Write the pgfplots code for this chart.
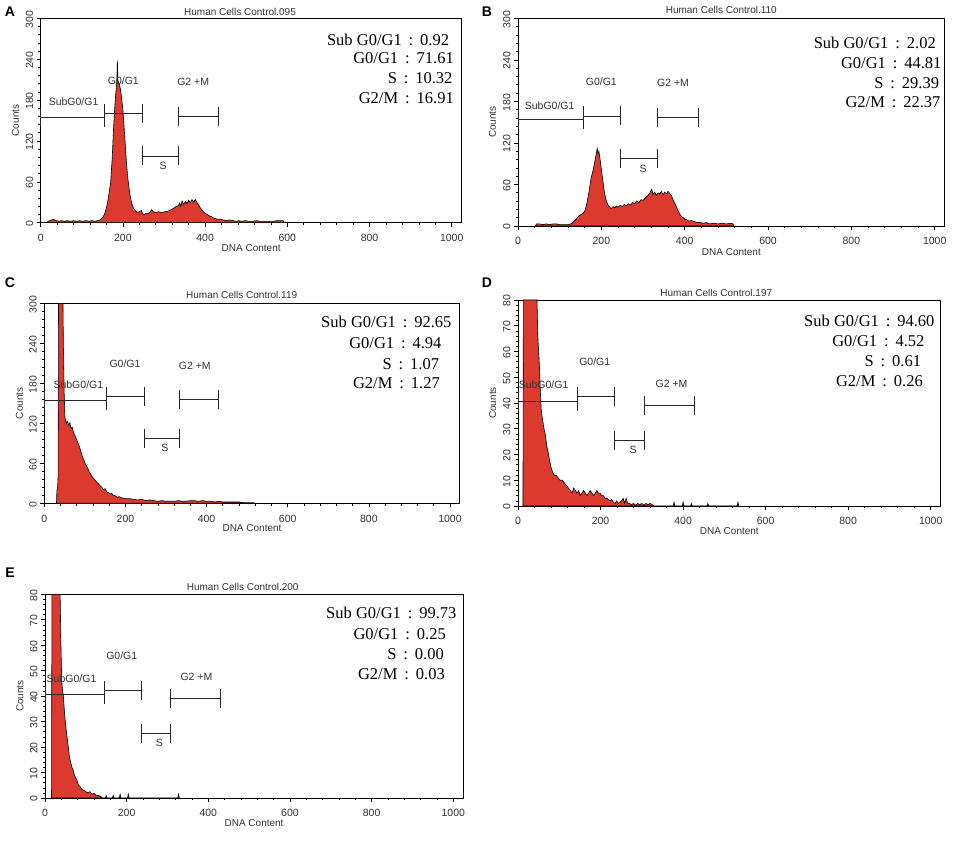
\documentclass[border=0pt]{standalone}
\usepackage{fontspec}
\setmainfont{Liberation Sans}
\newfontfamily\tnr{Liberation Serif}
\usepackage{pgfplots}
\pgfplotsset{compat=1.18}
\definecolor{histred}{RGB}{220,58,47}
\definecolor{lbl}{RGB}{50,50,50}
\newcommand{\sep}{\hspace{0.42em}:\hspace{0.42em}}
\pgfplotsset{
 flow/.style={
  scale only axis, anchor=south west,
  xmin=0, xmax=1024, ymin=0,
  xtick={0,200,...,1000}, minor x tick num=4, minor y tick num=4,
  axis line style={black, line width=0.75pt},
  tick align=outside, xtick pos=lower, ytick pos=left,
  major tick length=4pt, minor tick length=2.5pt,
  tick style={black, line width=0.6pt},
  every tick label/.append style={font=\fontsize{10.5}{11}\selectfont, text=lbl},
  /pgf/number format/assume math mode=true,
  /pgf/number format/set thousands separator={},
  xticklabel style={yshift=-4pt},
  yticklabel style={rotate=90, anchor=south, xshift=-1pt},
  xlabel={DNA Content}, ylabel={Counts},
  xlabel style={at={(axis description cs:0.5,-0.124)}, anchor=center},
  ylabel style={at={(axis description cs:-0.06,0.5)}, anchor=center},
  label style={font=\fontsize{10}{11}\selectfont, text=lbl},
  clip=true,
 },
 gate/.style={black!85, line width=0.75pt, mark=|, mark size=9.5pt, mark options={line width=0.75pt, solid}},
 hist/.style={fill=histred, draw=black, line width=0.6pt},
}
\tikzset{
 glab/.style={font=\fontsize{10.5}{11}\selectfont, text=lbl},
 ann/.style={anchor=east, inner sep=0pt, font=\tnr\fontsize{16.5}{18}\selectfont},
 ttl/.style={font=\fontsize{10}{11}\selectfont, text=lbl},
 plet/.style={font=\bfseries\fontsize{14}{15}\selectfont},
}
\begin{document}
\begin{tikzpicture}[x=1pt,y=1pt]
\path[use as bounding box] (0,0) rectangle (957,842);

% ---------------- A ----------------
\begin{axis}[flow, at={(40.7pt,619.3pt)}, width=420.9pt, height=204.4pt, ymax=300, ytick={0,60,...,300}]
\addplot[hist] coordinates {(15,0) (18,2) (22,3) (26,4) (30,5) (34,4) (38,3) (45,2) (50,3) (58,2) (65,3) (72,2) (80,3) (88,2) (95,3) (102,2) (110,3) (118,2) (125,3) (132,2) (138,3) (145,4) (150,7) (155,12) (160,22) (165,38) (170,58) (174,95) (177,135) (180,168) (183,192) (185,205) (186.5,238) (188,208) (191,204) (194,196) (197,182) (200,165) (203,140) (206,112) (209,85) (212,65) (215,50) (218,38) (222,27) (226,21) (230,18) (235,15) (240,16) (245,18) (248,13) (252,12) (256,14) (260,13) (265,15) (270,19) (274,16) (280,15) (287,16) (295,15) (302,16) (310,17) (317,19) (323,21) (330,24) (335,25) (338,29) (341,24) (344,32) (348,27) (352,31) (356,28) (360,33) (364,29) (368,34) (372,30) (376,34) (380,30) (384,26) (388,22) (392,19) (396,16) (400,14) (405,12) (410,10) (415,9) (420,7) (425,6) (430,5) (438,5) (445,4) (452,3) (460,4) (468,3) (475,2) (482,3) (490,2) (498,3) (505,2) (515,2) (525,3) (535,2) (545,2) (555,2) (565,2) (575,3) (585,3) (590,3) (592,0)} \closedcycle;
\addplot[gate] coordinates {(0,155) (155.7,155)};
\addplot[gate] coordinates {(155.7,160) (247,160)};
\addplot[gate] coordinates {(247,98) (335,98)};
\addplot[gate] coordinates {(335,156) (432,156)};
\node[glab] at (axis cs:80,178) {SubG0/G1};
\node[glab] at (axis cs:201,209) {G0/G1};
\node[glab] at (axis cs:371,207) {G2 +M};
\node[glab] at (axis cs:298,84) {S};
\end{axis}

% ---------------- B ----------------
\begin{axis}[flow, at={(518pt,616pt)}, width=426.7pt, height=207.7pt, ymax=300, ytick={0,60,...,300}]
\addplot[hist] coordinates {(42,0) (44,3) (52,3) (60,2) (68,3) (76,2) (84,3) (92,3) (100,2) (108,2) (116,2) (122,2) (126,3) (130,4) (135,7) (140,10) (145,14) (150,16) (155,18) (160,21) (165,32) (170,48) (175,68) (180,80) (184,92) (187,102) (190,112) (192,104) (194,108) (197,96) (200,82) (204,64) (208,46) (212,36) (216,30) (220,27) (224,25) (228,28) (232,26) (236,29) (240,27) (245,30) (250,28) (255,31) (260,29) (265,32) (270,30) (275,34) (280,32) (285,36) (290,34) (295,38) (300,37) (305,40) (310,43) (315,46) (318,50) (321,53) (324,45) (328,49) (332,44) (336,48) (340,46) (344,50) (348,45) (352,49) (356,46) (360,50) (364,47) (368,44) (372,38) (376,33) (380,28) (384,22) (388,17) (392,14) (396,12) (400,10) (405,9) (410,7) (415,8) (420,7) (425,6) (430,5) (438,5) (445,4) (452,5) (460,3) (470,4) (480,3) (490,4) (500,3) (510,4) (516,3) (518,0)} \closedcycle;
\addplot[gate] coordinates {(0,154.5) (156,154.5)};
\addplot[gate] coordinates {(156,159) (246.4,159)};
\addplot[gate] coordinates {(246.4,98) (334.4,98)};
\addplot[gate] coordinates {(334.4,157) (432,157)};
\node[glab] at (axis cs:76,174) {SubG0/G1};
\node[glab] at (axis cs:200,209) {G0/G1};
\node[glab] at (axis cs:372,206) {G2 +M};
\node[glab] at (axis cs:300,83) {S};
\end{axis}

% ---------------- C ----------------
\begin{axis}[flow, at={(44.3pt,338.7pt)}, width=415.4pt, height=200pt, ymax=300, ytick={0,60,...,300}]
\addplot[hist] coordinates {(30,0) (31,18) (33,25) (34,40) (35,300) (46,300) (47,240) (49,165) (51,128) (54,120) (57,123) (60,117) (63,121) (66,112) (69,114) (72,106) (75,102) (78,98) (82,92) (86,86) (90,78) (94,70) (98,64) (102,58) (106,54) (110,48) (114,44) (118,40) (122,37) (126,34) (130,31) (134,29) (138,26) (142,24) (146,20) (150,22) (154,17) (158,16) (162,14) (166,15) (170,12) (175,11) (180,9) (185,10) (190,8) (195,8) (200,7) (210,7) (220,6) (230,5) (240,6) (250,4) (260,5) (270,4) (280,3) (290,4) (300,3) (310,3) (320,3) (330,4) (340,3) (350,3) (360,4) (370,4) (380,3) (390,4) (400,3) (410,3) (420,2) (430,3) (440,2) (450,2) (460,2) (470,2) (480,2) (490,1) (500,1) (510,1) (516,1) (518,0)} \closedcycle;
\addplot[gate] coordinates {(0,154) (153.7,154)};
\addplot[gate] coordinates {(153.7,160) (245.7,160)};
\addplot[gate] coordinates {(245.7,97.5) (332.8,97.5)};
\addplot[gate] coordinates {(332.8,156) (429,156)};
\node[glab] at (axis cs:84,178.5) {SubG0/G1};
\node[glab] at (axis cs:199,210) {G0/G1};
\node[glab] at (axis cs:371,206.5) {G2 +M};
\node[glab] at (axis cs:297,82.5) {S};
\end{axis}

% ---------------- D ----------------
\begin{axis}[flow, at={(518pt,336pt)}, width=422.6pt, height=206pt, ymax=80, ytick={0,10,...,80}]
\addplot[hist] coordinates {(12,0) (13,80) (46,80) (48,66) (50,60) (52,54) (54,45) (56,38) (58,35) (60,33) (63,30) (66,28) (70,23) (73,21) (76,18) (80,15) (84,13) (88,12) (92,12) (97,11) (102,10) (107,10) (112,9) (117,8) (122,7) (127,6) (131,5) (135,7) (139,6) (143,5) (147,6) (151,4) (155,5) (159,6) (163,5) (167,4) (171,5) (175,6) (179,5) (183,4) (187,5) (191,6) (195,5) (199,5) (203,4) (207,4) (211,3) (215,3) (219,2.5) (223,2) (227,2.5) (231,1.5) (235,1) (239,2) (243,1) (247,1.5) (251,2) (255,3) (258,1) (262,3) (266,1) (270,1) (275,0.5) (280,1) (285,0.3) (290,1) (295,0.5) (300,1) (305,0.3) (310,1) (315,0.5) (320,1) (325,0.5) (330,0) (376,0) (378,1.5) (380,0) (398,0) (400,1.5) (402,0) (418,0) (420,1) (422,0) (458,0) (460,1) (462,0) (531,0) (533,1.5) (535,0)} \closedcycle;
\addplot[gate] coordinates {(0,40.5) (143,40.5)};
\addplot[gate] coordinates {(143,42.5) (234,42.5)};
\addplot[gate] coordinates {(234,25.6) (307,25.6)};
\addplot[gate] coordinates {(307,39.2) (428,39.2)};
\node[glab] at (axis cs:62,47) {SubG0/G1};
\node[glab] at (axis cs:186,56) {G0/G1};
\node[glab] at (axis cs:372,47.6) {G2 +M};
\node[glab] at (axis cs:279,21.7) {S};
\end{axis}

% ---------------- E ----------------
\begin{axis}[flow, at={(45pt,44pt)}, width=418.1pt, height=203.7pt, ymax=80, ytick={0,10,...,80}]
\addplot[hist] coordinates {(16,0) (17,80) (37,80) (39,60) (41,46) (43,42) (45,40) (48,33) (51,28) (54,24) (57,20) (60,16) (63,14) (66,12) (69,11) (72,9) (75,8) (78,7) (82,5) (86,4.5) (90,3.5) (95,3) (100,2.5) (105,2) (110,2.5) (115,1.5) (120,1.8) (125,1) (130,1) (135,0.8) (140,0) (148,0) (150,1) (152,0) (165,0) (167,1) (169,0) (182,0) (184,1.5) (186,0) (202,0) (204,1.5) (206,0) (325,0) (327,1.5) (329,0)} \closedcycle;
\addplot[gate] coordinates {(0,40.5) (145,40.5)};
\addplot[gate] coordinates {(145,42.2) (237,42.2)};
\addplot[gate] coordinates {(237,25.4) (308,25.4)};
\addplot[gate] coordinates {(308,39.1) (428.6,39.1)};
\node[glab] at (axis cs:65,47) {SubG0/G1};
\node[glab] at (axis cs:188,56) {G0/G1};
\node[glab] at (axis cs:371,47.7) {G2 +M};
\node[glab] at (axis cs:280,21.7) {S};
\end{axis}

% ---------------- titles, letters, annotations ----------------
\node[plet] at (10,830.3) {A};
\node[plet] at (487,830) {B};
\node[plet] at (10,559) {C};
\node[plet] at (487,559) {D};
\node[plet] at (10,269.3) {E};

\node[ttl] at (240,830.3) {Human Cells Control.095};
\node[ttl] at (721.3,832) {Human Cells Control.110};
\node[ttl] at (241.7,547) {Human Cells Control.119};
\node[ttl] at (716.3,548.7) {Human Cells Control.197};
\node[ttl] at (242.7,254.7) {Human Cells Control.200};

\node[ann] at (449.3,802) {Sub G0/G1\sep0.92};
\node[ann] at (454,783.7) {G0/G1\sep71.61};
\node[ann] at (452.7,764) {S\sep10.32};
\node[ann] at (454,743.7) {G2/M\sep16.91};

\node[ann] at (936,798.7) {Sub G0/G1\sep2.02};
\node[ann] at (941.7,778.7) {G0/G1\sep44.81};
\node[ann] at (939.3,758.7) {S\sep29.39};
\node[ann] at (940.7,740.3) {G2/M\sep22.37};

\node[ann] at (451.7,520.3) {Sub G0/G1\sep92.65};
\node[ann] at (441.7,499.3) {G0/G1\sep4.94};
\node[ann] at (439.3,478) {S\sep1.07};
\node[ann] at (440,458.7) {G2/M\sep1.27};

\node[ann] at (934.7,521.3) {Sub G0/G1\sep94.60};
\node[ann] at (924.7,501) {G0/G1\sep4.52};
\node[ann] at (921.3,481.3) {S\sep0.61};
\node[ann] at (923,461) {G2/M\sep0.26};

\node[ann] at (456.7,228.7) {Sub G0/G1\sep99.73};
\node[ann] at (446,208) {G0/G1\sep0.25};
\node[ann] at (444,187.7) {S\sep0.00};
\node[ann] at (445,168) {G2/M\sep0.03};
\end{tikzpicture}
\end{document}
